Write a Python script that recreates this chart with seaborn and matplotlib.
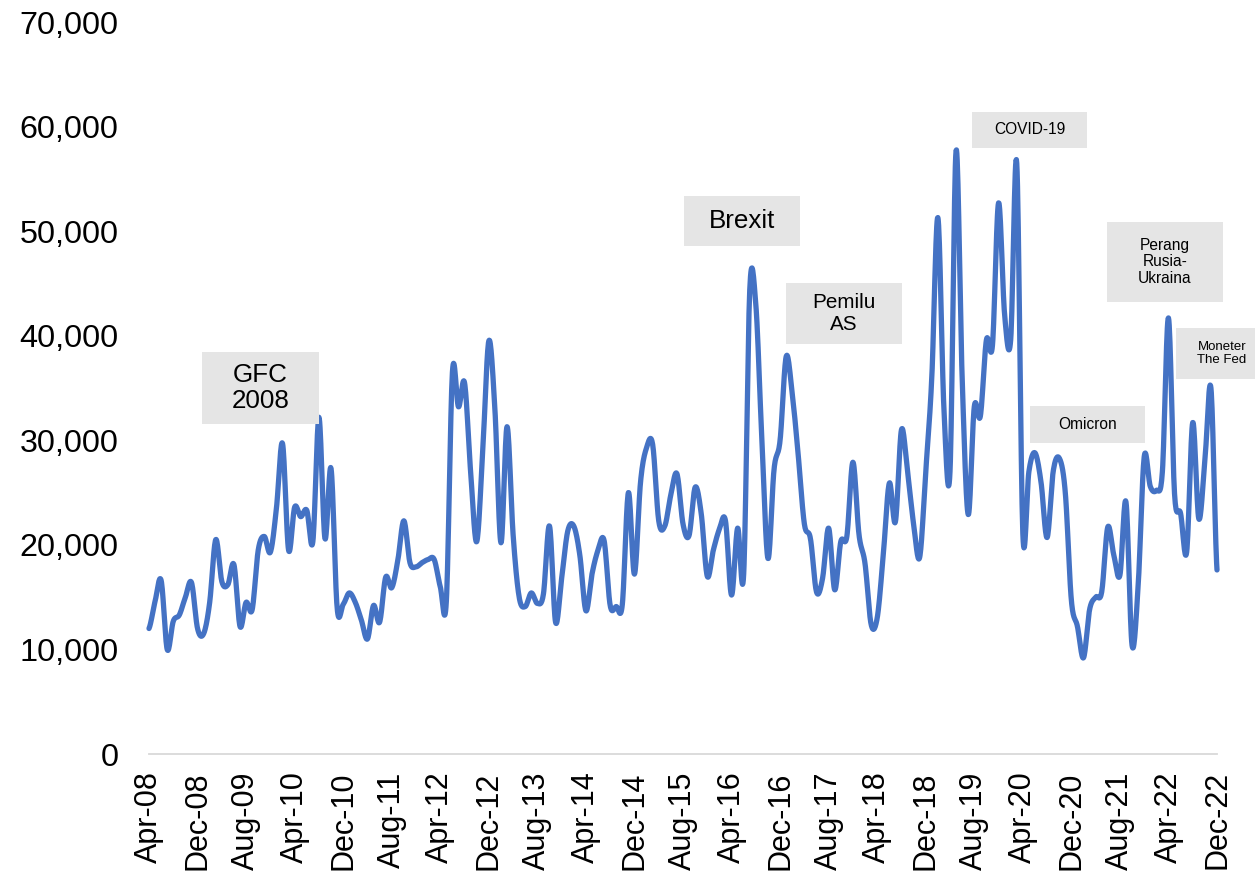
import numpy as np
import pandas as pd
import matplotlib
matplotlib.use("Agg")
import matplotlib.pyplot as plt
import seaborn as sns
from matplotlib.patches import Rectangle

# ---- data (thousands), monthly Apr-2008 .. Dec-2022 ----
values_k = [
    12.0, 14.6, 16.6, 10.0, 12.7, 13.3, 15.0, 16.4, 12.0, 11.5,
    14.5, 20.5, 16.5, 16.2, 18.1, 12.2, 14.5, 13.8, 19.5, 20.8,
    19.3, 23.5, 29.7, 19.5, 23.6, 22.7, 23.3, 20.3, 32.2, 20.6,
    27.3, 14.0, 14.3, 15.4, 14.5, 12.8, 11.0, 14.2, 12.6, 16.9,
    15.9, 18.5, 22.3, 18.3, 17.9, 18.3, 18.6, 18.6, 16.0, 14.6,
    36.5, 33.2, 35.5, 27.0, 20.3, 29.0, 39.5, 33.0, 20.2, 31.3,
    21.0, 15.0, 14.1, 15.4, 14.4, 15.3, 21.8, 12.6, 16.8, 21.3,
    21.8, 19.0, 13.7, 17.2, 19.5, 20.4, 14.2, 14.1, 14.3, 25.0,
    17.2, 26.0, 29.3, 29.6, 22.3, 21.8, 24.8, 26.8, 22.0, 20.9,
    25.5, 23.0, 17.0, 19.5, 21.5, 22.3, 15.2, 21.6, 17.2, 44.4,
    43.0, 30.0, 18.7, 27.2, 30.0, 38.0, 34.5, 28.5, 22.0, 20.6,
    15.5, 16.8, 21.6, 15.7, 20.3, 20.8, 27.9, 21.0, 18.2, 12.4,
    13.0, 19.0, 25.9, 22.2, 31.0, 27.0, 22.0, 18.8, 27.0, 36.0,
    51.3, 33.0, 27.0, 57.7, 36.0, 22.9, 33.2, 32.3, 39.6, 39.1,
    52.7, 42.0, 39.6, 56.5, 21.1, 27.0, 28.8, 26.0, 20.7, 27.0,
    28.3, 25.0, 14.7, 12.2, 9.2, 13.8, 15.0, 15.5, 21.7, 19.0,
    17.1, 24.1, 10.4, 16.0, 28.4, 25.6, 25.2, 27.0, 41.7, 24.9,
    23.0, 19.3, 31.7, 22.5, 28.0, 35.0, 17.6,
]
months = pd.date_range("2008-04-01", "2022-12-01", freq="MS")
tick_labels = ["Apr-08", "Dec-08", "Aug-09", "Apr-10", "Dec-10", "Aug-11",
               "Apr-12", "Dec-12", "Aug-13", "Apr-14", "Dec-14", "Aug-15",
               "Apr-16", "Dec-16", "Aug-17", "Apr-18", "Dec-18", "Aug-19",
               "Apr-20", "Dec-20", "Aug-21", "Apr-22", "Dec-22"]
y_ticks = [0, 10000, 20000, 30000, 40000, 50000, 60000, 70000]

annotations = [
    ("GFC\n2008", 202, 352, 319, 424, 18.7),
    ("Brexit", 684, 196, 800, 246, 18.7),
    ("Pemilu\nAS", 786, 283, 902, 344, 14.9),
    ("COVID-19", 972, 112, 1087, 148, 11.2),
    ("Omicron", 1030, 406, 1145, 443, 11.2),
    ("Perang\nRusia-\nUkraina", 1107, 222, 1223, 302, 11.2),
    ("Moneter\nThe Fed", 1176, 328, 1268, 379, 9.5),
]

df = pd.DataFrame({"month": months, "value": np.array(values_k) * 1000})
df["idx"] = np.arange(len(df))


def smooth(y, n=16):
    """Excel-style smoothed line (Catmull-Rom Bezier)."""
    y = np.asarray(y, float)
    p = np.concatenate([[y[0]], y, [y[-1]]])
    xs, ys = [], []
    t = np.linspace(0, 1, n, endpoint=False)
    for i in range(len(y) - 1):
        p0, p1, p2, p3 = p[i], p[i + 1], p[i + 2], p[i + 3]
        c1 = p1 + (p2 - p0) / 6
        c2 = p2 - (p3 - p1) / 6
        b = (1 - t) ** 3 * p1 + 3 * (1 - t) ** 2 * t * c1 + 3 * (1 - t) * t ** 2 * c2 + t ** 3 * p2
        xs.append(i + t)
        ys.append(b)
    xs.append([len(y) - 1])
    ys.append([y[-1]])
    return np.concatenate(xs), np.concatenate(ys)


sns.set_theme(style="white")
plt.rcParams["font.family"] = ["Liberation Sans", "DejaVu Sans"]

W, H = 1255, 874
fig = plt.figure(figsize=(W / 100, H / 100), dpi=100)
ax = fig.add_axes([149 / W, 1 - 754 / H, (1217 - 149) / W, (754 - 22) / H])

sx, sy = smooth(df["value"].values)
sns.lineplot(x=sx, y=sy, ax=ax, color="#4472C4", linewidth=3.8,
             sort=False, estimator=None)
for ln in ax.get_lines():
    ln.set_clip_on(False)
    ln.set_solid_capstyle("round")
    ln.set_solid_joinstyle("round")

ax.set_xlim(0, len(df) - 1)
ax.set_ylim(0, 70000)
ax.set_xticks(np.arange(0, len(df), 8))
ax.set_xticklabels(tick_labels, rotation=90)
ax.set_yticks(y_ticks)
ax.set_yticklabels([f"{v:,}" for v in y_ticks])
ax.tick_params(axis="y", length=0, pad=22, labelsize=23.3, colors="black")
ax.tick_params(axis="x", length=0, pad=12.5, labelsize=22, colors="black")
ax.set_xlabel("")
ax.set_ylabel("")
ax.grid(False)
for s in ["left", "top", "right"]:
    ax.spines[s].set_visible(False)
ax.spines["bottom"].set_color("#d9d9d9")
ax.spines["bottom"].set_linewidth(1.3)

for txt, x0, y0, x1, y1, fs in annotations:
    fig.add_artist(Rectangle((x0 / W, 1 - y1 / H), (x1 - x0) / W, (y1 - y0) / H,
                             transform=fig.transFigure, facecolor="#e5e5e5",
                             edgecolor="none", zorder=5))
    fig.text((x0 + x1) / 2 / W, 1 - (y0 + y1) / 2 / H, txt, ha="center",
             va="center", fontsize=fs, color="black", linespacing=1.15, zorder=6)

fig.savefig("out.png", dpi=100)
